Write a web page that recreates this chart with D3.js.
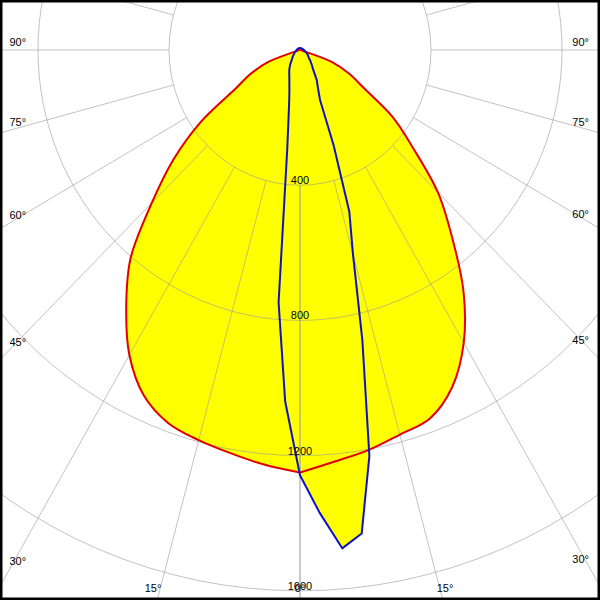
<!DOCTYPE html>
<html>
<head>
<meta charset="utf-8">
<script src="https://cdn.jsdelivr.net/npm/d3@7"></script>
<style>
  html, body { margin: 0; padding: 0; background: #fff; }
  svg { display: block; }
</style>
</head>
<body>
<svg id="chart" width="600" height="600"></svg>
<script>
// ---- data (candela vs gamma angle) ----
const gammaRed = [0, 5, 10, 15, 20, 25, 30, 35, 40, 45, 50, 55, 60, 65, 70, 75, 80, 85, 90, 120, 150, 180];
const c0Values   = [1250, 1222, 1202, 1178, 1160, 1100, 1000, 870, 722, 595, 450, 345, 225, 165, 103, 8, 4, 3, 3, 3, 3, 3];
const c180Values = [1250, 1232, 1212, 1195, 1175, 1128, 1042, 925, 805, 640, 505, 368, 225, 165, 103, 8, 4, 3, 3, 3, 3, 3];

const gammaBlue = [0, 2.5, 5, 7.5, 10, 12.5, 15, 17.5, 20, 22.5, 25, 30, 35, 40, 45, 50, 60, 70, 80, 90, 120, 150, 180];
const c90Values  = [1258, 1370, 1480, 1443, 1220, 880, 625, 500, 300, 160, 133, 102, 70, 55, 44, 35, 27, 20, 15, 12, 8, 6, 6];
const c270Values = [1258, 1040, 750, 300, 200, 152, 125, 108, 95, 85, 78, 65, 52, 40, 33, 28, 20, 16, 12, 10, 8, 6, 6];

const ringValues = [400, 800, 1200, 1600];
const ringLabels = ["400", "800", "1200", "1600"];
const spokeAngles = [0, 15, 30, 45, 60, 75, 90, 105, 120, 135, 150, 165, 180];
const angleLabels = [0, 15, 30, 45, 60, 75, 90];

// ---- layout ----
const W = 600, H = 600;
const cx = 300, cy = 50;
const kx = 0.3275, ky = 0.338;   // px per cd (horizontal / vertical)
const xS = d3.scaleLinear().domain([-1600, 1600]).range([cx - 1600 * kx, cx + 1600 * kx]);
const yS = d3.scaleLinear().domain([0, 1600]).range([cy, cy + 1600 * ky]);
const rX = d3.scaleLinear().domain([0, 1600]).range([0, 1600 * kx]);
const rY = d3.scaleLinear().domain([0, 1600]).range([0, 1600 * ky]);
const rad = d => d * Math.PI / 180;
const proj = (g, I, side) => [xS(side * I * Math.sin(rad(g))), yS(I * Math.cos(rad(g)))];

const svg = d3.select("#chart");
svg.append("rect").attr("width", W).attr("height", H).attr("fill", "#fff");

function shapeLinear(gammas, right, left) {
  const pts = [];
  gammas.forEach((g, i) => pts.push(proj(g, right[i], 1)));
  for (let i = gammas.length - 1; i >= 0; i--) pts.push(proj(gammas[i], left[i], -1));
  return d3.line().curve(d3.curveLinearClosed)(pts);
}
function shapeSmooth(gammas, right, left) {
  const line = d3.line().curve(d3.curveCatmullRom.alpha(0.5));
  const rPts = gammas.map((g, i) => proj(g, right[i], 1));
  const lPts = gammas.map((g, i) => proj(g, left[i], -1)).reverse();
  return line(rPts) + line(lPts).replace(/^M/, "L") + "Z";
}
const redPath = shapeSmooth(gammaRed, c0Values, c180Values);
const bluePath = shapeLinear(gammaBlue, c90Values, c270Values);

// fills
svg.append("path").attr("d", redPath).attr("fill", "#ffff00");
svg.append("path").attr("d", bluePath).attr("fill", "#ffff00");

// grid
const grid = svg.append("g").attr("stroke", "#999").attr("stroke-opacity", 0.6).attr("fill", "none").attr("stroke-width", 1);
ringValues.forEach(v => {
  grid.append("ellipse").attr("cx", xS(0)).attr("cy", yS(0)).attr("rx", rX(v)).attr("ry", rY(v));
});
[1, -1].forEach(side => {
  spokeAngles.forEach(g => {
    const a = proj(g, ringValues[0], side), b = proj(g, 4000, side);
    grid.append("line").attr("x1", a[0]).attr("y1", a[1]).attr("x2", b[0]).attr("y2", b[1]);
  });
});

// outlines
svg.append("path").attr("d", redPath).attr("fill", "none").attr("stroke", "#e00000").attr("stroke-width", 2).attr("stroke-linejoin", "round");
svg.append("path").attr("d", bluePath).attr("fill", "none").attr("stroke", "#1010c8").attr("stroke-width", 2).attr("stroke-linejoin", "round");

// labels
const font = "'Liberation Sans', Arial, sans-serif";
const txt = svg.append("g").attr("font-family", font).attr("font-size", 11).attr("fill", "#000");
ringValues.forEach((v, i) => {
  txt.append("text").attr("x", xS(0)).attr("y", yS(v) - 1).attr("text-anchor", "middle").text(ringLabels[i]);
});

const leftX = 9.5, rightX = 589, bottomY = 592;
angleLabels.forEach(g => {
  if (g === 0) {
    txt.append("text").attr("x", xS(0)).attr("y", bottomY).attr("text-anchor", "middle").text(g + "°");
    return;
  }
  [1, -1].forEach(side => {
    const dx = Math.sin(rad(g)) * kx, dy = Math.cos(rad(g)) * ky;
    const edgeX = side > 0 ? rightX : leftX;
    const t = Math.abs(edgeX - cx) / dx;
    const ySide = cy + t * dy;
    if (ySide <= bottomY) {
      txt.append("text").attr("x", edgeX).attr("y", ySide - 4)
        .attr("text-anchor", side > 0 ? "end" : "start").text(g + "°");
    } else {
      const tb = (bottomY - cy) / dy;
      const xb = cx + side * tb * dx;
      txt.append("text").attr("x", side > 0 ? xb - 4 : xb + 2).attr("y", bottomY)
        .attr("text-anchor", side > 0 ? "start" : "end").text(g + "°");
    }
  });
});

// frame
svg.append("rect").attr("x", 0).attr("y", 0).attr("width", W).attr("height", H)
  .attr("fill", "none").attr("stroke", "#000").attr("stroke-width", 5);
</script>
</body>
</html>
